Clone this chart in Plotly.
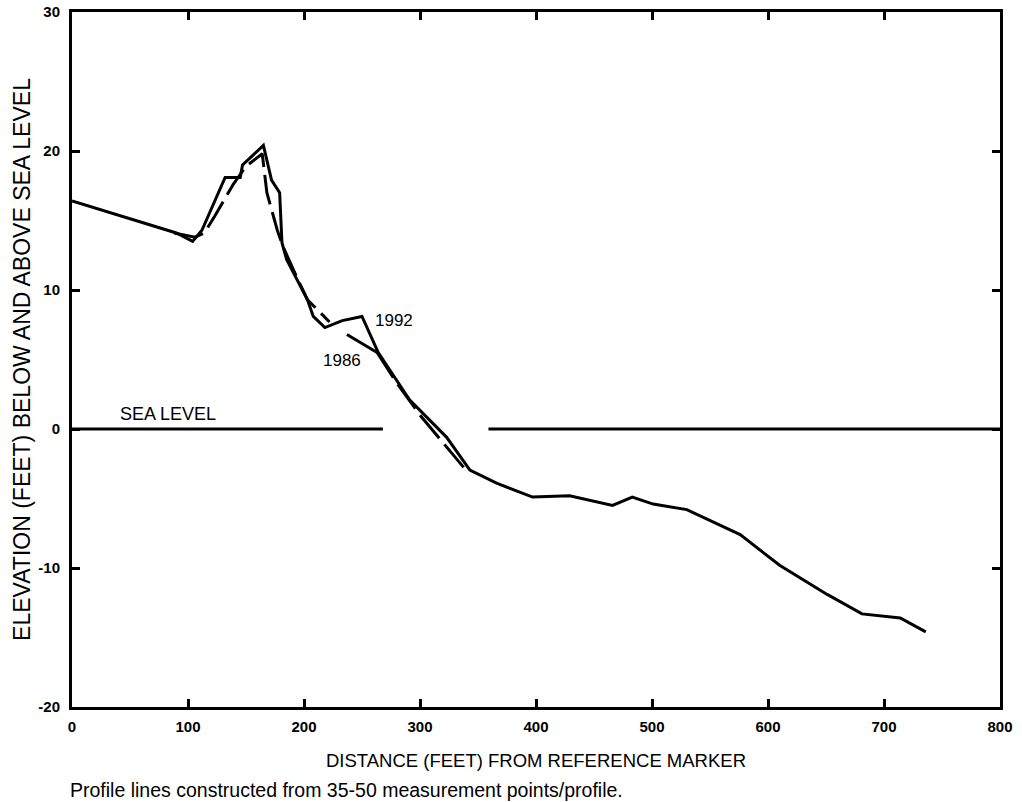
import plotly.graph_objects as go

# 1992 profile (solid)
x_1992 = [0, 90, 104, 112, 132, 145, 147, 165, 172, 179, 181, 185, 203, 208, 218, 233, 250, 264, 268, 291, 323, 343,
          366, 397, 429, 455, 466, 483, 501, 530, 576, 610, 651, 681, 714, 736]
y_1992 = [16.4, 14.1, 13.5, 14.3, 18.1, 18.1, 19.0, 20.4, 17.9, 17.0, 13.4, 12.2, 9.3, 8.1, 7.3, 7.8, 8.1, 5.5, 5.0, 2.1, -0.6, -2.95,
          -3.9, -4.9, -4.8, -5.3, -5.5, -4.9, -5.4, -5.8, -7.6, -9.8, -11.9, -13.3, -13.6, -14.6]

# 1986 profile (dashed)
x_1986 = [88, 106, 114, 123, 139, 150, 164, 168, 177, 182, 195, 203, 222, None, 263, 280, 300, 320, 341]
y_1986 = [14.1, 13.8, 14.1, 15.3, 17.6, 18.9, 19.8, 17.0, 14.3, 13.1, 10.7, 9.3, 7.7, None, 5.5, 3.3, 1.0, -1.0, -3.1]

# leader from "1986" label
x_lead = [237, 263]
y_lead = [6.8, 5.5]

# sea level line (with gap)
x_sea = [0, 268, None, 359, 800]
y_sea = [0, 0, None, 0, 0]

x_ticks = [0, 100, 200, 300, 400, 500, 600, 700, 800]
y_ticks = [-20, -10, 0, 10, 20, 30]

FONT = "Liberation Sans, Arial, Helvetica, sans-serif"

fig = go.Figure()
fig.add_trace(go.Scatter(x=x_sea, y=y_sea, mode="lines", line=dict(color="black", width=3), hoverinfo="skip"))
fig.add_trace(go.Scatter(x=x_1992, y=y_1992, mode="lines", name="1992", line=dict(color="black", width=3)))
fig.add_trace(go.Scatter(x=x_1986, y=y_1986, mode="lines", name="1986",
                         line=dict(color="black", width=3, dash="30px,8px"), connectgaps=False))
fig.add_trace(go.Scatter(x=x_lead, y=y_lead, mode="lines", line=dict(color="black", width=3), hoverinfo="skip"))

fig.add_annotation(x=83, y=1.05, text="SEA LEVEL", showarrow=False, font=dict(family=FONT, size=18, color="black"))
fig.add_annotation(x=278, y=7.8, text="1992", showarrow=False, font=dict(family=FONT, size=17, color="black"))
fig.add_annotation(x=233, y=4.9, text="1986", showarrow=False, font=dict(family=FONT, size=17, color="black"))
fig.add_annotation(x=-0.004, xref="paper", xanchor="left", y=-0.1194, yref="paper", yanchor="middle",
                   text="Profile lines constructed from 35-50 measurement points/profile.",
                   showarrow=False, font=dict(family=FONT, size=19.5, color="black"))

axis_common = dict(showline=True, linewidth=3, linecolor="black", mirror="allticks",
                   ticks="inside", ticklen=8, tickwidth=3, tickcolor="black",
                   showgrid=False, zeroline=False, automargin=False,
                   tickfont=dict(family=FONT, size=15, color="black", weight="bold"))

fig.update_xaxes(range=[0, 800], tickvals=x_ticks, ticktext=[str(v) for v in x_ticks],
                 ticklabelstandoff=4,
                 title=dict(text="DISTANCE (FEET) FROM REFERENCE MARKER",
                            font=dict(family=FONT, size=18.5, color="black"), standoff=21),
                 **axis_common)
fig.update_yaxes(range=[-20, 30], tickvals=y_ticks, ticktext=[str(v) for v in y_ticks],
                 ticklabelstandoff=6,
                 title=dict(text="ELEVATION (FEET) BELOW AND ABOVE SEA LEVEL",
                            font=dict(family=FONT, size=23, color="black"), standoff=2),
                 **axis_common)

fig.update_layout(width=1022, height=802, showlegend=False,
                  margin=dict(l=72, r=22, t=12, b=95),
                  plot_bgcolor="white", paper_bgcolor="white",
                  font=dict(family=FONT, color="black"))

fig.write_html("out.html", config={"displayModeBar": False},
               post_script="document.body.style.margin='0';document.body.style.overflow='hidden';")
